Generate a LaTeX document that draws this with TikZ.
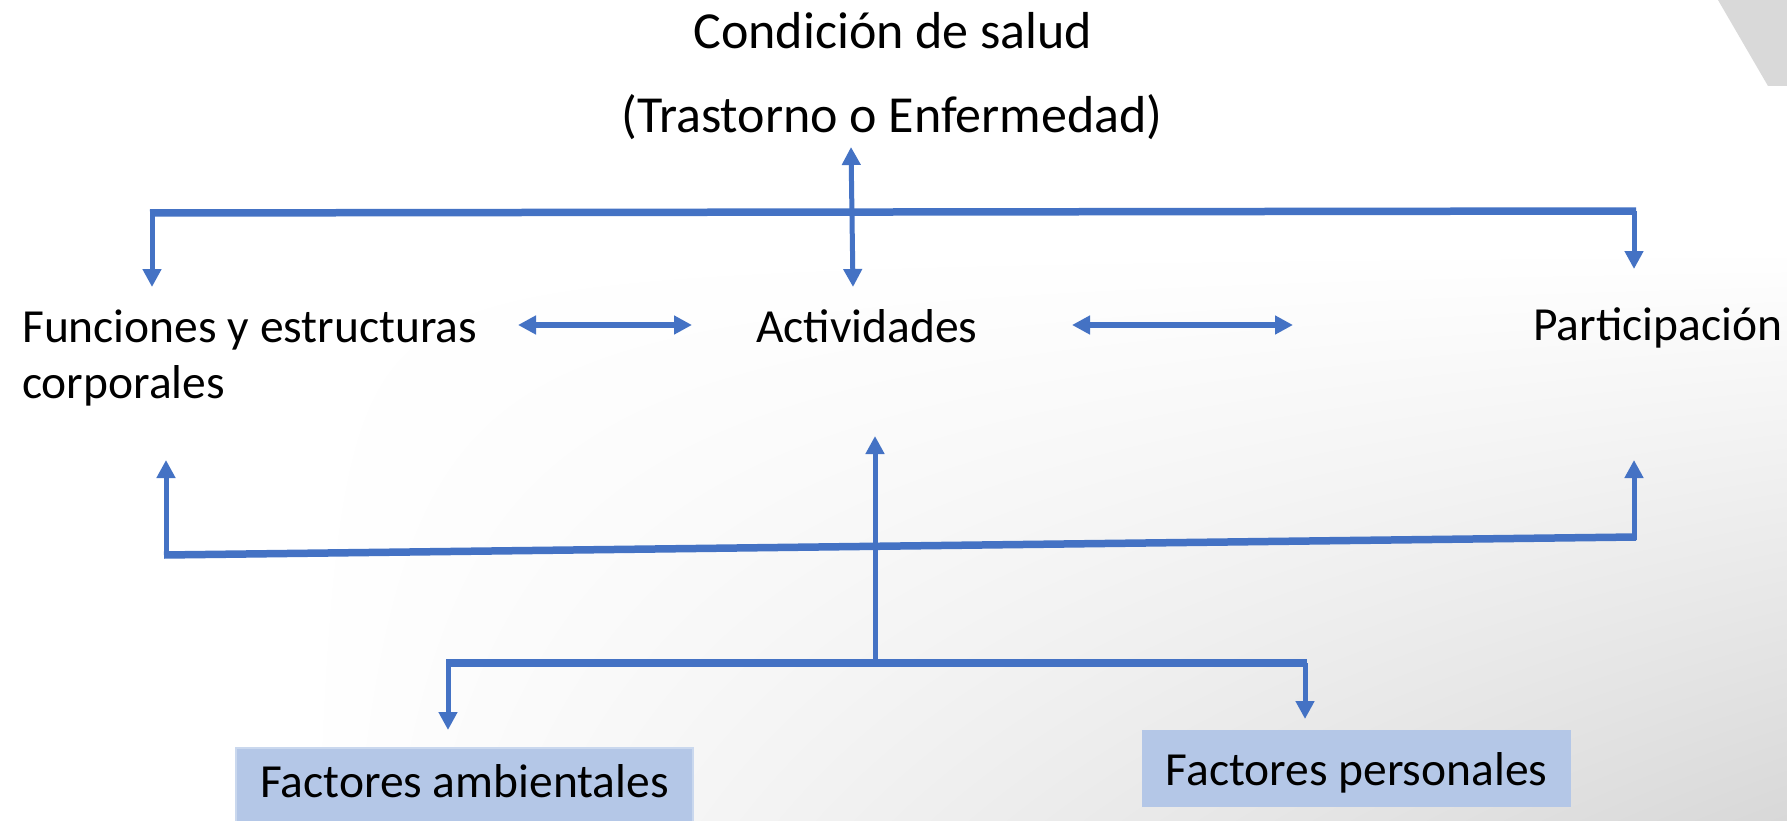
\documentclass[tikz,border=0pt]{standalone}
\usepackage{fontspec}
\setmainfont{Carlito}
\usetikzlibrary{arrows.meta,shadings}
\definecolor{lineblue}{HTML}{4472C4}
\definecolor{boxblue}{HTML}{B4C7E7}
\definecolor{boxedge}{HTML}{CAD8EE}
\definecolor{paragray}{HTML}{D9D9D9}
\definecolor{bgbr}{HTML}{D8D8D8}
\begin{document}
\begin{tikzpicture}[x=1pt,y=-1pt,
  hline/.style={draw=lineblue, line width=7.5pt},
  vline/.style={draw=lineblue, line width=5pt},
  dline/.style={draw=lineblue, line width=6pt},
  tipend/.style={-{Triangle[length=18pt,width=18pt]}},
  tipboth/.style={{Triangle[length=18pt,width=18pt]}-{Triangle[length=18pt,width=18pt]}},
  title/.style={font=\fontsize{52}{60}\selectfont, inner sep=0pt},
  body/.style={font=\fontsize{47.5}{56}\selectfont, inner sep=0pt, align=left},
  factor/.style={font=\fontsize{47.5}{56}\selectfont, inner sep=0pt, fill=boxblue, align=center}
]
\useasboundingbox (0,0) rectangle (1787,821);
% background
\fill[white] (0,0) rectangle (1787,821);
\shade[upper left=white, upper right=white, lower left=white, lower right=bgbr] (300,250) rectangle (1787,821);
\fill[paragray] (1718,0) -- (1787,0) -- (1787,86) -- (1768,86) -- cycle;

% texts
\node[title, anchor=base] (cond) at (893,49) {Condición de salud};
\node[title, anchor=base] (trast) at (892,133) {(Trastorno o Enfermedad)};
\node[body, anchor=base west] (func) at (22,398) {Funciones y estructuras\\corporales};
\node[body, anchor=base west] (act) at (756,342) {Actividades};
\node[body, anchor=base west] (part) at (1533,340) {Participación};
\node[factor, draw=boxedge, line width=2pt, minimum width=457pt, text height=49pt, text depth=26pt, anchor=base] (amb) at (464.5,797) {Factores ambientales};
\node[factor, minimum width=429pt, text height=55pt, text depth=22pt, anchor=base] (pers) at (1356.5,785) {Factores personales};

% coordinates
\coordinate (ctop) at (851,147);
\coordinate (cbot) at (853,287);
\coordinate (tl) at (150,213);
\coordinate (tr) at (1636,211);
\coordinate (tla) at (152,213);
\coordinate (tlt) at (152,287);
\coordinate (tra) at (1634,211);
\coordinate (trt) at (1634,269);
\coordinate (fa) at (518,325);
\coordinate (fb) at (692,325);
\coordinate (pa) at (1072,325);
\coordinate (pb) at (1293,325);
\coordinate (bl) at (164,555);
\coordinate (br) at (1636,537);
\coordinate (bla) at (166,557);
\coordinate (blt) at (166,460);
\coordinate (bra) at (1634,540);
\coordinate (brt) at (1634,460);
\coordinate (ma) at (875,663);
\coordinate (mt) at (875,436);
\coordinate (fl) at (446,663);
\coordinate (fr) at (1307,663);
\coordinate (fla) at (448,663);
\coordinate (flt) at (448,730);
\coordinate (fra) at (1305,663);
\coordinate (frt) at (1305,719);

% top structure
\draw[hline] (tl) -- (tr);
\draw[vline, tipend] (tla) -- (tlt);
\draw[vline, tipend] (tra) -- (trt);
\draw[vline, tipboth] (ctop) -- (cbot);
% horizontal double arrows
\draw[dline, tipboth] (fa) -- (fb);
\draw[dline, tipboth] (pa) -- (pb);
% bottom structure
\draw[hline] (bl) -- (br);
\draw[vline, tipend] (bla) -- (blt);
\draw[vline, tipend] (bra) -- (brt);
\draw[vline, tipend] (ma) -- (mt);
\draw[hline] (fl) -- (fr);
\draw[vline, tipend] (fla) -- (flt);
\draw[vline, tipend] (fra) -- (frt);
\end{tikzpicture}
\end{document}
